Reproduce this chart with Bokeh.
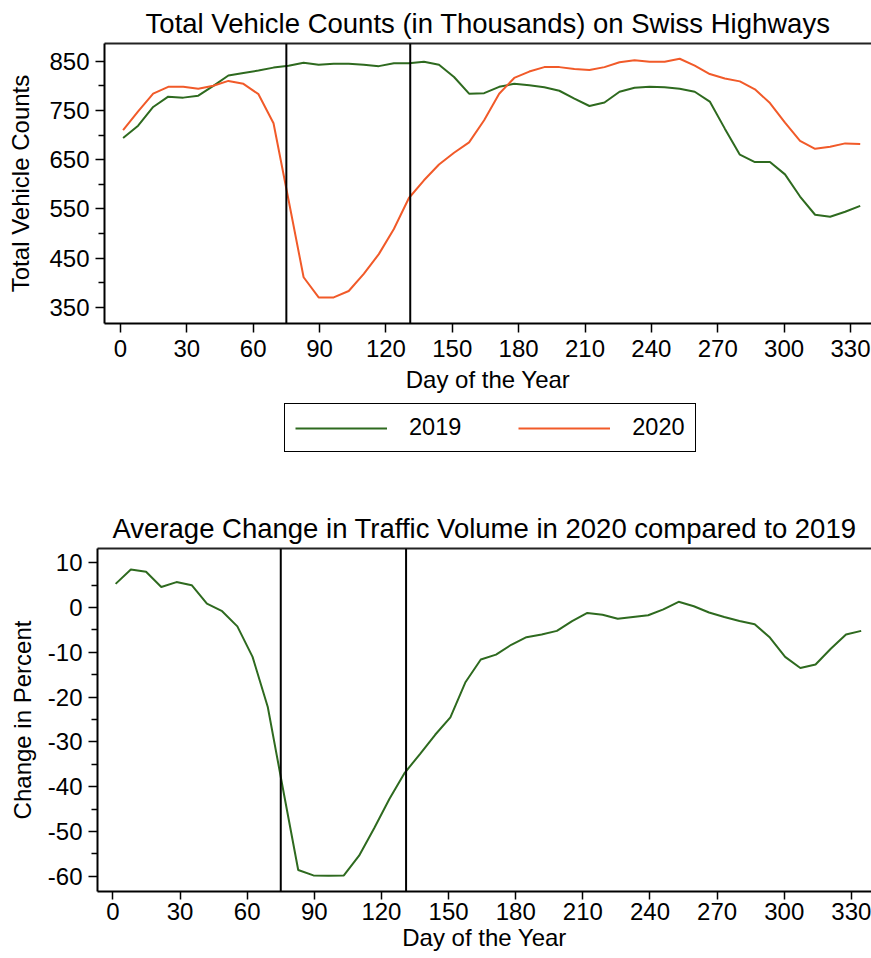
from bokeh.plotting import figure
from bokeh.models import Span, Legend, LegendItem, FixedTicker, LinearAxis, Range1d
from bokeh.embed import file_html
from bokeh.resources import INLINE

FONT = "Liberation Sans"
GREEN = "#2e6a1f"
ORANGE = "#f15a29"

# Day of the year for each weekly observation
DAYS = [1.2, 8.0, 14.8, 21.6, 28.4, 35.2, 42.0, 48.8, 55.6, 62.4,
        69.2, 76.0, 82.8, 89.6, 96.4, 103.2, 110.0, 116.8, 123.6, 130.4,
        137.2, 144.0, 150.8, 157.6, 164.4, 171.2, 178.0, 184.8, 191.6, 198.4,
        205.2, 212.0, 218.8, 225.6, 232.4, 239.2, 246.0, 252.8, 259.6, 266.4,
        273.2, 280.0, 286.8, 293.6, 300.4, 307.2, 314.0, 320.8, 327.6, 334.4]

# Total vehicle counts (thousands)
COUNTS_2019 = [694, 719, 757, 778, 776, 780, 800, 821, 826, 831,
               837, 841, 847, 843, 845, 845, 843, 840, 846, 846,
               849, 843, 818, 784, 785, 798, 804, 801, 797, 790,
               774, 759, 766, 788, 796, 798, 797, 794, 788, 768,
               713, 660, 645, 645, 620, 575, 538, 534, 544, 556]
COUNTS_2020 = [710, 748, 784, 798, 798, 794, 800, 810, 804, 783,
               724, 568, 411, 370, 370, 383, 418, 458, 509, 572,
               608, 640, 664, 685, 730, 784, 816, 829, 838, 838,
               834, 832, 838, 848, 852, 849, 849, 855, 841, 824,
               815, 809, 793, 765, 725, 688, 672, 676, 683, 682]

# Average change in traffic volume, 2020 vs 2019 (percent)
PCT_CHANGE = [5.3, 8.5, 8.0, 4.6, 5.7, 5.0, 0.9, -0.8, -4.2, -11.0,
              -22.2, -40.5, -58.6, -59.8, -59.9, -59.8, -55.4, -49.2, -42.7, -36.9,
              -32.7, -28.4, -24.5, -16.6, -11.6, -10.5, -8.3, -6.6, -6.0, -5.2,
              -3.0, -1.2, -1.6, -2.5, -2.1, -1.7, -0.4, 1.3, 0.3, -1.1,
              -2.1, -3.0, -3.7, -6.7, -11.0, -13.5, -12.7, -9.2, -6.0, -5.2]

SERIES_LABELS = ["2019", "2020"]

# Lockdown period markers
LOCKDOWN_START = 75
LOCKDOWN_END = 131

X_TICKS = [0, 30, 60, 90, 120, 150, 180, 210, 240, 270, 300, 330]
COUNT_TICKS = [350, 450, 550, 650, 750, 850]
COUNT_MINOR = [400, 500, 600, 700, 800]
PCT_TICKS = [10, 0, -10, -20, -30, -40, -50, -60]
PCT_MINOR = [5, -5, -15, -25, -35, -45, -55]


def style_axes(p, ylabel, y_ticks, y_minor, tick_standoff, label_standoff,
               x_tick_out, x_tick_standoff, x_label_standoff):
    p.outline_line_color = None
    p.xgrid.visible = False
    p.ygrid.visible = False
    p.background_fill_color = "white"
    p.border_fill_color = "white"

    p.title.text_font = FONT
    p.title.text_font_size = "27.5px"
    p.title.text_font_style = "normal"
    p.title.align = "center"
    p.title.text_color = "black"

    xa = p.xaxis[0]
    xa.ticker = FixedTicker(ticks=X_TICKS)
    xa.axis_label = "Day of the Year"
    ya = p.yaxis[0]
    ya.ticker = FixedTicker(ticks=y_ticks, minor_ticks=y_minor)
    # plain hyphen for negative tick values
    ya.major_label_overrides = {t: str(t) for t in y_ticks}
    ya.axis_label = ylabel
    for ax in (xa, ya):
        ax.axis_line_width = 2
        ax.axis_line_color = "black"
        ax.major_tick_line_width = 1.5
        ax.minor_tick_line_width = 1.5
        ax.major_tick_in = 0
        ax.minor_tick_in = 0
        ax.major_tick_out = 9
        ax.major_label_text_font = FONT
        ax.major_label_text_font_size = "24px"
        ax.major_label_text_color = "black"
        ax.axis_label_text_font = FONT
        ax.axis_label_text_font_size = "24px"
        ax.axis_label_text_font_style = "normal"
        ax.axis_label_text_color = "black"
    ya.major_label_standoff = tick_standoff
    ya.axis_label_standoff = label_standoff
    ya.minor_tick_out = 6
    xa.major_tick_out = x_tick_out
    xa.major_label_standoff = x_tick_standoff
    xa.axis_label_standoff = x_label_standoff
    xa.minor_tick_line_color = None

    # plain top border line
    top = LinearAxis(ticker=FixedTicker(ticks=[]), axis_line_width=2,
                     axis_line_color="#222222", major_tick_line_color=None,
                     minor_tick_line_color=None, major_label_standoff=0,
                     axis_label_standoff=0, major_tick_out=0, minor_tick_out=0)
    p.add_layout(top, "above")

    for day in (LOCKDOWN_START, LOCKDOWN_END):
        p.add_layout(Span(location=day, dimension="height",
                          line_color="black", line_width=2))


# Top panel: vehicle counts
p1 = figure(width=871, height=400, output_backend="svg", toolbar_location=None,
            x_range=Range1d(-7.2, 339.5), y_range=Range1d(317, 886),
            min_border_left=104, min_border_right=0, min_border_top=43,
            min_border_bottom=77,
            title="Total Vehicle Counts (in Thousands) on Swiss Highways")
p1.line(DAYS, COUNTS_2019, line_color=GREEN, line_width=2)
p1.line(DAYS, COUNTS_2020, line_color=ORANGE, line_width=2)
style_axes(p1, "Total Vehicle Counts", COUNT_TICKS, COUNT_MINOR, 6, 12, 9, 7, 6)

# Legend strip under the top panel; its hidden renderers only supply the keys
pl = figure(width=871, height=75, output_backend="svg", toolbar_location=None,
            x_axis_type=None, y_axis_type=None,
            x_range=Range1d(-7.2, 339.5), y_range=Range1d(317, 886),
            min_border=0, outline_line_color=None)
pl.xgrid.visible = False
pl.ygrid.visible = False
k19 = pl.line(DAYS, COUNTS_2019, line_color=GREEN, line_width=2, visible=False)
k20 = pl.line(DAYS, COUNTS_2020, line_color=ORANGE, line_width=2, visible=False)
legend = Legend(items=[LegendItem(label=SERIES_LABELS[0], renderers=[k19]),
                       LegendItem(label=SERIES_LABELS[1], renderers=[k20])],
                orientation="horizontal", location=(284, 23),
                glyph_width=92, glyph_height=22, label_standoff=22,
                spacing=57, padding=10, margin=0,
                border_line_color="black", border_line_width=1.5,
                border_line_alpha=1.0, inactive_fill_alpha=0.0,
                label_text_font=FONT, label_text_font_size="23.5px",
                label_text_color="black")
pl.add_layout(legend, "center")

# Bottom panel: percent change
p2 = figure(width=871, height=483, output_backend="svg", toolbar_location=None,
            x_range=Range1d(-6.9, 339.0), y_range=Range1d(-63.4, 13.2),
            min_border_left=97, min_border_right=0, min_border_top=73,
            min_border_bottom=67,
            title="Average Change in Traffic Volume in 2020 compared to 2019")
p2.line(DAYS, PCT_CHANGE, line_color=GREEN, line_width=2)
style_axes(p2, "Change in Percent", PCT_TICKS, PCT_MINOR, 6, 9, 8, 3, 1)

# stacked roots, each keeping its own frame placement
open("out.html", "w").write(file_html([p1, pl, p2], INLINE))
